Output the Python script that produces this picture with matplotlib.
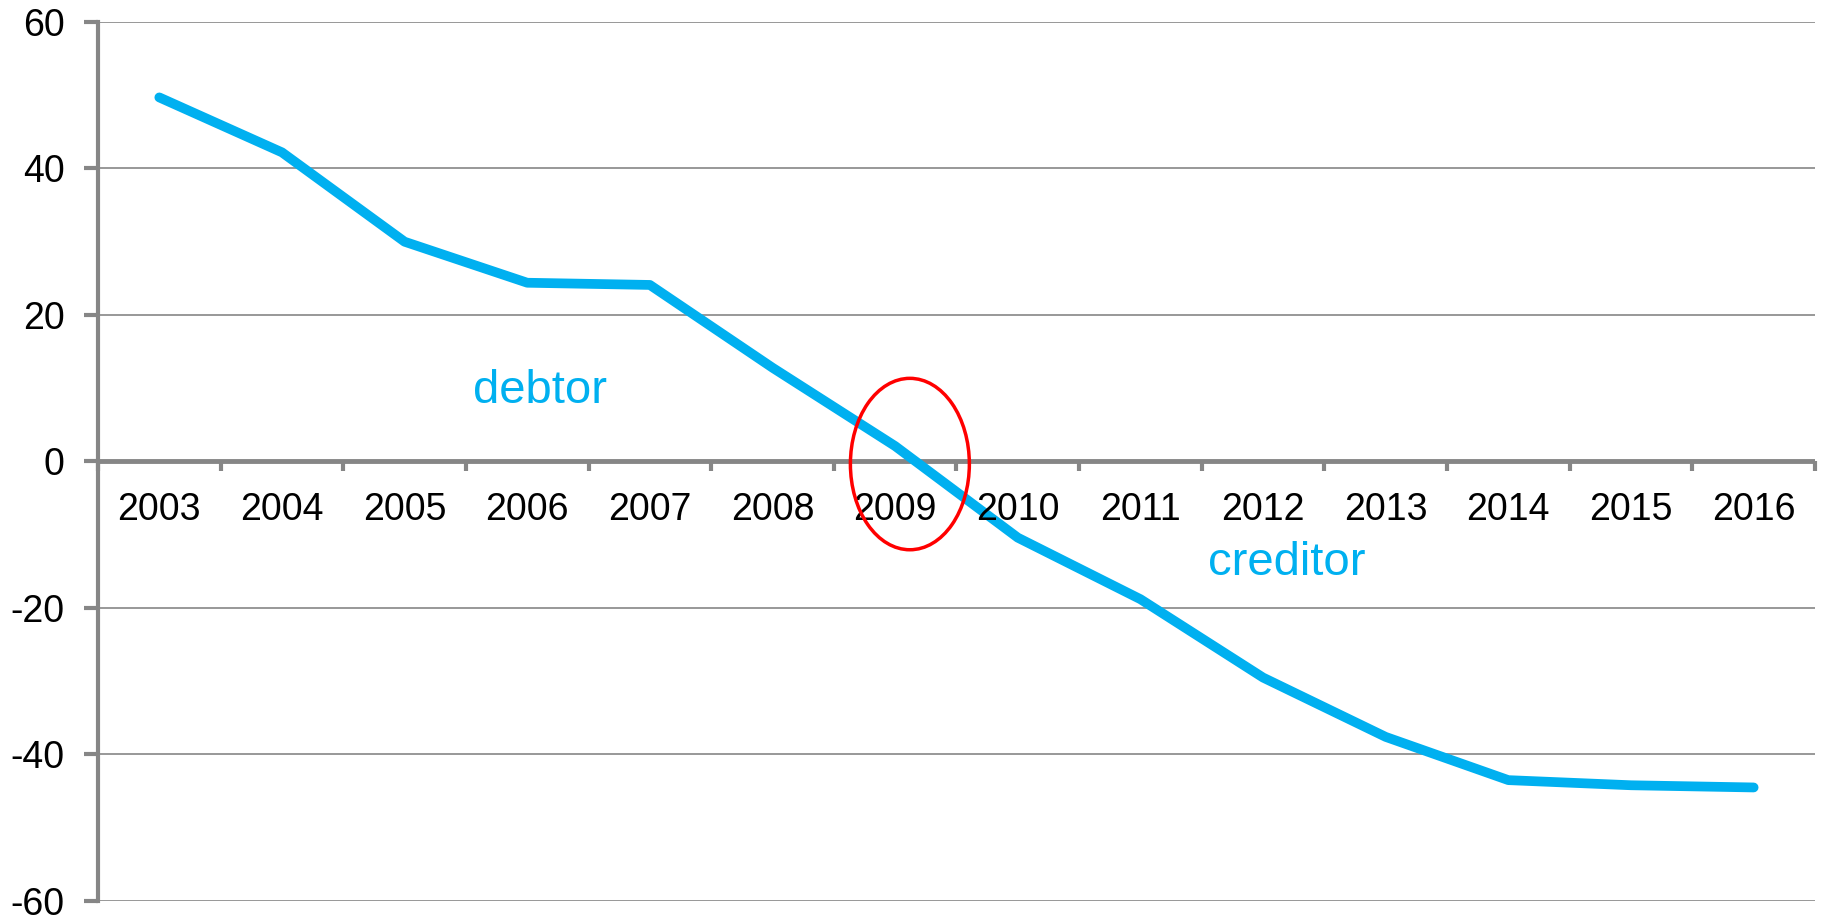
import matplotlib.pyplot as plt
from matplotlib.patches import Ellipse

# dados
anos = ['2003', '2004', '2005', '2006', '2007', '2008', '2009',
        '2010', '2011', '2012', '2013', '2014', '2015', '2016']
saldo = [49.7, 42.2, 30.0, 24.4, 24.1, 12.8, 2.1,
         -10.4, -18.8, -29.5, -37.6, -43.5, -44.2, -44.5]
marcas_y = [-60, -40, -20, 0, 20, 40, 60]

azul = '#00B0F0'
cinza = '#868686'

plt.rcParams['font.family'] = ['Liberation Sans', 'DejaVu Sans']

fig = plt.figure(figsize=(18.25, 9.15), dpi=100)
ax = fig.add_axes([0.0537, 0.0153, 0.9408, 0.9607])

x = list(range(len(anos)))
ax.plot(x, saldo, color=azul, linewidth=7, solid_capstyle='round', zorder=3)

ax.set_xlim(-0.5, len(anos) - 0.5)
ax.set_ylim(-60, 60)

# linhas de grade horizontais
ax.set_yticks(marcas_y)
ax.set_yticklabels([str(v) for v in marcas_y], fontsize=27)
ax.grid(axis='y', color=cinza, linewidth=1.2)
ax.set_axisbelow(True)

# eixo x no zero, com marcas entre as categorias
for s in ['top', 'right', 'bottom']:
    ax.spines[s].set_visible(False)
ax.spines['left'].set_color(cinza)
ax.spines['left'].set_linewidth(3)
ax.axhline(0, color=cinza, linewidth=3.5, zorder=2)

ax.set_xticks([])
ax.tick_params(axis='y', length=10, width=3, color=cinza, pad=14)
for i in range(len(anos) + 1):
    ax.plot([i - 0.5, i - 0.5], [0, -1.3], color=cinza, linewidth=3,
            solid_capstyle='butt', zorder=2, clip_on=False)

for i, a in enumerate(anos):
    ax.text(i, -8.0, a, ha='center', va='baseline', fontsize=27, color='black')

ax.text(3.10, 8.0, 'debtor', color=azul, fontsize=34, ha='center', va='baseline')
ax.text(9.19, -15.5, 'creditor', color=azul, fontsize=34, ha='center', va='baseline')

elipse = Ellipse((6.12, -0.35), 0.97, 23.4, fill=False, edgecolor='red',
                 linewidth=2.5, zorder=4)
ax.add_patch(elipse)

fig.savefig('out.png', dpi=100)
